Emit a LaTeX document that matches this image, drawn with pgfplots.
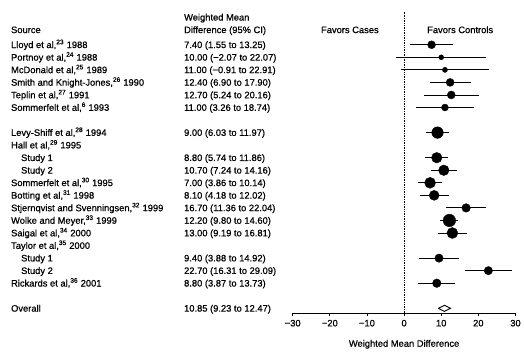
\documentclass[border=0pt]{standalone}
\usepackage{pgfplots}
\usepackage{pgfplotstable}
\usepackage{fontspec}
\setmainfont{Liberation Sans}[FakeBold=0.7]
\pgfplotsset{compat=1.18}

% row: line number in the table (1 = first study); r: marker radius (study weight)
\pgfplotstableread{
row wmd lo hi r
1 7.40 1.55 13.25 4.0
2 10.00 -2.07 22.07 2.5
3 11.00 -0.91 22.91 2.6
4 12.40 6.90 17.90 4.0
5 12.70 5.24 20.16 4.0
6 11.00 3.26 18.74 3.5
8 9.00 6.03 11.97 5.8
10 8.80 5.74 11.86 5.3
11 10.70 7.24 14.16 5.3
12 7.00 3.86 10.14 5.5
13 8.10 4.18 12.02 5.0
14 16.70 11.36 22.04 4.3
15 12.20 9.80 14.60 6.3
16 13.00 9.19 16.81 5.5
18 9.40 3.88 14.92 4.2
19 22.70 16.31 29.09 4.2
20 8.80 3.87 13.73 4.3
}\studies

\begin{document}
\begin{tikzpicture}[font=\fontsize{9.4}{11}\selectfont,
  tlab/.style={anchor=base west, yshift=-3.3pt, inner sep=0pt},
  clab/.style={anchor=base, yshift=-3.3pt, inner sep=0pt}]
\begin{axis}[
  scale only axis, width=224pt, height=303pt,
  xmin=-30, xmax=30, ymin=-22.37, ymax=1.64,
  axis x line*=bottom, axis y line=none,
  xtick={-30,-20,-10,0,10,20,30},
  xticklabels={−30,−20,−10,0,10,20,30},
  tick align=outside, major tick length=3pt,
  xticklabel style={anchor=base, yshift=-10.5pt},
  xlabel={Weighted Mean Difference},
  xlabel style={at={(axis description cs:0.5,-0.104)}, anchor=center},
  clip=false,
  x axis line style={line width=0.9pt, -},
  every tick/.style={black, line width=0.9pt},
]
% bounding box of the whole figure
\path (axis cs:-108.84,2.566) rectangle (axis cs:31.53,-24.93);
% line of no effect
\addplot[black, densely dotted, line width=0.7pt] coordinates {(0,-22.37) (0,1.64)};
% confidence intervals
\addplot[black, only marks, mark=none,
  error bars/.cd, x dir=both, x explicit, error mark=none,
  error bar style={black, solid, line width=0.9pt}]
  table[x=wmd, y expr=-\thisrow{row},
        x error plus expr=\thisrow{hi}-\thisrow{wmd},
        x error minus expr=\thisrow{wmd}-\thisrow{lo}] {\studies};
% point estimates
\addplot[only marks, mark=*, black, scatter,
  scatter/use mapped color={draw=black, fill=black},
  visualization depends on={\thisrow{r} \as \rad},
  scatter/@pre marker code/.append style={/tikz/mark size=\rad}]
  table[x=wmd, y expr=-\thisrow{row}] {\studies};
% overall estimate
\addplot[black, fill=white, line width=0.9pt] coordinates
  {(9.23,-22) (10.85,-21.76) (12.47,-22) (10.85,-22.24) (9.23,-22)};

% header
\node[tlab] at (axis cs:-105.9,0.19) {Source};
\node[tlab] at (axis cs:-59.3,1.19) {Weighted Mean};
\node[tlab] at (axis cs:-59.3,0.19) {Difference (95\% CI)};
\node[clab] at (axis cs:-14.6,0.19) {Favors Cases};
\node[clab] at (axis cs:15.1,0.19) {Favors Controls};

% study labels
\node[tlab] at (axis cs:-105.9,-1) {Lloyd et al,\textsuperscript{23} 1988};
\node[tlab] at (axis cs:-105.9,-2) {Portnoy et al,\textsuperscript{24} 1988};
\node[tlab] at (axis cs:-105.9,-3) {McDonald et al,\textsuperscript{25} 1989};
\node[tlab] at (axis cs:-105.9,-4) {Smith and Knight-Jones,\textsuperscript{26} 1990};
\node[tlab] at (axis cs:-105.9,-5) {Teplin et al,\textsuperscript{27} 1991};
\node[tlab] at (axis cs:-105.9,-6) {Sommerfelt et al,\textsuperscript{6} 1993};
\node[tlab] at (axis cs:-105.9,-8) {Levy-Shiff et al,\textsuperscript{28} 1994};
\node[tlab] at (axis cs:-105.9,-9) {Hall et al,\textsuperscript{29} 1995};
\node[tlab] at (axis cs:-103.2,-10) {Study 1};
\node[tlab] at (axis cs:-103.2,-11) {Study 2};
\node[tlab] at (axis cs:-105.9,-12) {Sommerfelt et al,\textsuperscript{30} 1995};
\node[tlab] at (axis cs:-105.9,-13) {Botting et al,\textsuperscript{31} 1998};
\node[tlab] at (axis cs:-105.9,-14) {Stjernqvist and Svenningsen,\textsuperscript{32} 1999};
\node[tlab] at (axis cs:-105.9,-15) {Wolke and Meyer,\textsuperscript{33} 1999};
\node[tlab] at (axis cs:-105.9,-16) {Saigal et al,\textsuperscript{34} 2000};
\node[tlab] at (axis cs:-105.9,-17) {Taylor et al,\textsuperscript{35} 2000};
\node[tlab] at (axis cs:-103.2,-18) {Study 1};
\node[tlab] at (axis cs:-103.2,-19) {Study 2};
\node[tlab] at (axis cs:-105.9,-20) {Rickards et al,\textsuperscript{36} 2001};
\node[tlab] at (axis cs:-105.9,-22) {Overall};

% values
\node[tlab] at (axis cs:-59.3,-1) {7.40 (1.55 to 13.25)};
\node[tlab] at (axis cs:-59.3,-2) {10.00 (−2.07 to 22.07)};
\node[tlab] at (axis cs:-59.3,-3) {11.00 (−0.91 to 22.91)};
\node[tlab] at (axis cs:-59.3,-4) {12.40 (6.90 to 17.90)};
\node[tlab] at (axis cs:-59.3,-5) {12.70 (5.24 to 20.16)};
\node[tlab] at (axis cs:-59.3,-6) {11.00 (3.26 to 18.74)};
\node[tlab] at (axis cs:-59.3,-8) {9.00 (6.03 to 11.97)};
\node[tlab] at (axis cs:-59.3,-10) {8.80 (5.74 to 11.86)};
\node[tlab] at (axis cs:-59.3,-11) {10.70 (7.24 to 14.16)};
\node[tlab] at (axis cs:-59.3,-12) {7.00 (3.86 to 10.14)};
\node[tlab] at (axis cs:-59.3,-13) {8.10 (4.18 to 12.02)};
\node[tlab] at (axis cs:-59.3,-14) {16.70 (11.36 to 22.04)};
\node[tlab] at (axis cs:-59.3,-15) {12.20 (9.80 to 14.60)};
\node[tlab] at (axis cs:-59.3,-16) {13.00 (9.19 to 16.81)};
\node[tlab] at (axis cs:-59.3,-18) {9.40 (3.88 to 14.92)};
\node[tlab] at (axis cs:-59.3,-19) {22.70 (16.31 to 29.09)};
\node[tlab] at (axis cs:-59.3,-20) {8.80 (3.87 to 13.73)};
\node[tlab] at (axis cs:-59.3,-22) {10.85 (9.23 to 12.47)};
\end{axis}
\end{tikzpicture}
\end{document}
